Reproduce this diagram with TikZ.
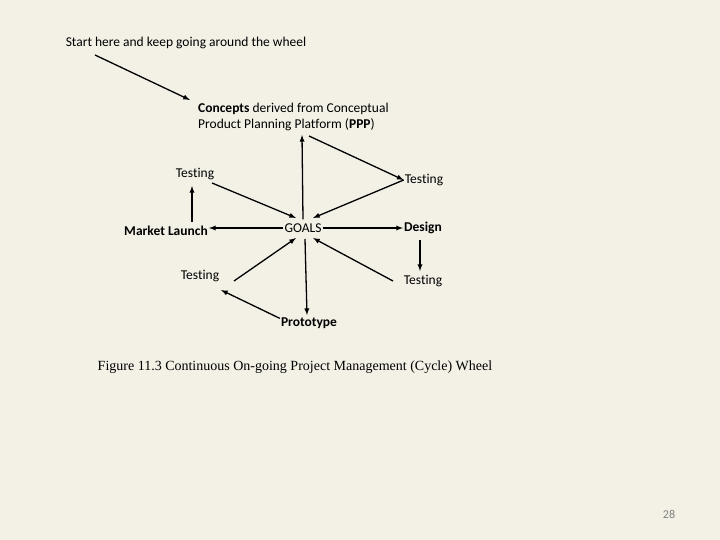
\documentclass[tikz,border=0pt]{standalone}
\usepackage{fontspec}
\setmainfont[RawFeature=-liga]{Carlito}
\newfontfamily\capfont{Liberation Serif}
\definecolor{bg}{HTML}{F3F0E6}
\begin{document}
\begin{tikzpicture}[x=1pt,y=-1pt,
  lbl/.style={inner sep=1pt,font=\fontsize{13.5}{15.5}\selectfont},
  arr/.style={-latex,line width=1.3pt}]
\fill[bg] (0,0) rectangle (720,540);
\useasboundingbox (0,0) rectangle (720,540);
\node[lbl] (start) at (186,43) {Start here and keep going around the wheel};
\coordinate (s0) at (95,55);
\node[lbl,align=left,anchor=west] (ppp) at (197,117) {\textbf{Concepts} derived from Conceptual\\Product Planning Platform (\textbf{PPP})};
\node[lbl] (goals) at (303,228) {GOALS};
\node[lbl] (tl) at (195,174) {Testing};
\node[lbl] (tr) at (424,180) {Testing};
\node[lbl] (ml) at (166,231) {\textbf{Market Launch}};
\node[lbl] (de) at (423,228) {\textbf{Design}};
\node[lbl] (bl) at (200,276) {Testing};
\node[lbl] (br) at (423,281) {Testing};
\node[lbl] (pr) at (309,323) {\textbf{Prototype}};
\node[font=\capfont\fontsize{14}{16}\selectfont] (cap) at (295,367) {Figure 11.3 Continuous On-going Project Management (Cycle) Wheel};
\node[font=\fontsize{12}{14}\selectfont,text=gray] (pg) at (669,514) {28};
\coordinate (ppptip) at (302,135);
\draw[arr] (s0) -- (190,100);
\draw[arr] (goals.north) ++(0,-3) -- (ppptip);
\draw[arr] (309,136) -- (tr.west);
\draw[arr] (tr.west) -- (313,218);
\draw[arr] (212,183) -- (296,218);
\draw[arr] (goals.west) -- (ml.east|-goals.west);
\draw[arr] (192,222) -- (192,186);
\draw[arr] (goals.east) -- (de.west);
\draw[arr] (420,240) -- (420,271);
\draw[arr] (393,281) -- (313,238);
\draw[arr] (305,239) -- (307,315);
\draw[arr] (pr.north west) ++(0,2) -- (221,290);
\draw[arr] (234,281) -- (296,238);
\end{tikzpicture}
\end{document}
